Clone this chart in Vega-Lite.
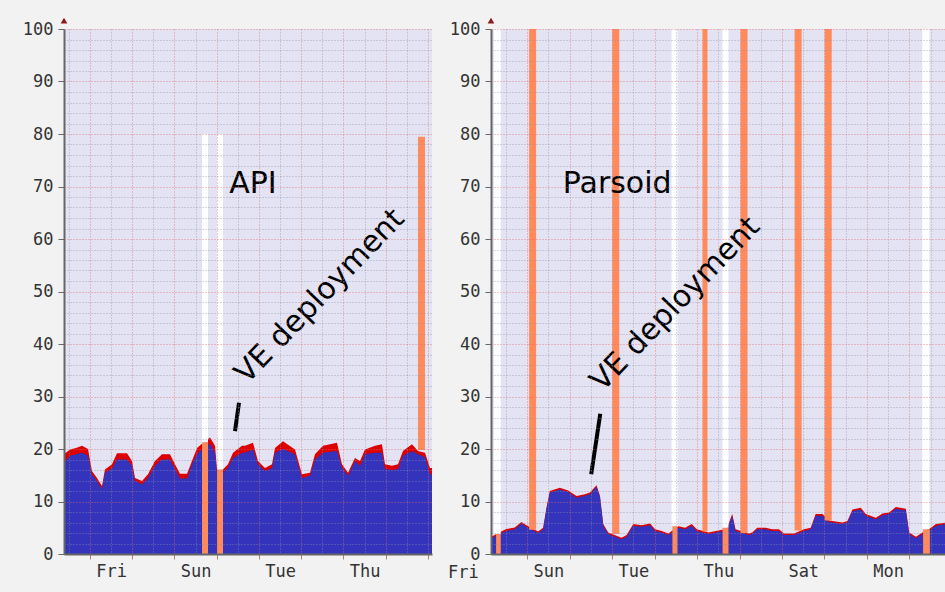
{
  "$schema": "https://vega.github.io/schema/vega-lite/v6.json",
  "background": "#f2f2f2",
  "padding": {"left": 22, "top": 17, "right": 0, "bottom": 14},
  "spacing": 16,
  "config": {
    "view": {"stroke": null, "fill": "#e3e3f3"},
    "axis": {"labelFont": "DejaVu Sans Mono", "labelFontSize": 17, "labelColor": "#333333", "title": null}
  },
  "datasets": {
    "api": [
      {"d": -0.615, "user": 17.4, "total": 19.0}, {"d": -0.473, "user": 18.7, "total": 19.9}, {"d": -0.331, "user": 19.0, "total": 20.2},
      {"d": -0.189, "user": 19.3, "total": 20.6}, {"d": -0.047, "user": 18.7, "total": 20.0}, {"d": 0.047, "user": 15.2, "total": 15.8},
      {"d": 0.166, "user": 13.9, "total": 14.5}, {"d": 0.284, "user": 12.4, "total": 12.95}, {"d": 0.355, "user": 15.5, "total": 16.1},
      {"d": 0.521, "user": 16.3, "total": 17.1}, {"d": 0.639, "user": 18.0, "total": 19.2}, {"d": 0.876, "user": 18.0, "total": 19.2},
      {"d": 0.994, "user": 16.8, "total": 17.7}, {"d": 1.065, "user": 13.9, "total": 14.5}, {"d": 1.231, "user": 13.3, "total": 13.9},
      {"d": 1.373, "user": 14.5, "total": 15.2}, {"d": 1.538, "user": 16.8, "total": 17.7}, {"d": 1.704, "user": 18.0, "total": 19.0},
      {"d": 1.893, "user": 18.0, "total": 19.0}, {"d": 2.012, "user": 16.2, "total": 17.1}, {"d": 2.130, "user": 14.4, "total": 15.3},
      {"d": 2.296, "user": 14.4, "total": 15.3}, {"d": 2.414, "user": 17.1, "total": 17.7}, {"d": 2.533, "user": 19.0, "total": 20.2},
      {"d": 2.651, "user": 20.0, "total": 21.0}, {"d": 2.840, "user": 21.0, "total": 22.2}, {"d": 2.959, "user": 19.3, "total": 20.6},
      {"d": 3.006, "user": 15.5, "total": 16.1}, {"d": 3.148, "user": 15.5, "total": 16.1}, {"d": 3.266, "user": 16.5, "total": 17.1},
      {"d": 3.385, "user": 18.3, "total": 19.3}, {"d": 3.598, "user": 19.3, "total": 20.6}, {"d": 3.669, "user": 19.3, "total": 20.6},
      {"d": 3.858, "user": 19.9, "total": 21.2}, {"d": 3.976, "user": 17.1, "total": 17.7}, {"d": 4.142, "user": 15.8, "total": 16.4},
      {"d": 4.308, "user": 16.4, "total": 17.1}, {"d": 4.379, "user": 19.3, "total": 20.2}, {"d": 4.568, "user": 20.0, "total": 21.5},
      {"d": 4.852, "user": 19.0, "total": 19.9}, {"d": 5.018, "user": 14.5, "total": 15.2}, {"d": 5.207, "user": 14.9, "total": 15.5},
      {"d": 5.325, "user": 18.0, "total": 19.0}, {"d": 5.515, "user": 19.3, "total": 20.6}, {"d": 5.846, "user": 19.6, "total": 21.2},
      {"d": 5.964, "user": 16.5, "total": 17.1}, {"d": 6.107, "user": 14.9, "total": 15.5}, {"d": 6.272, "user": 17.7, "total": 18.3},
      {"d": 6.391, "user": 16.8, "total": 17.7}, {"d": 6.509, "user": 19.0, "total": 19.9}, {"d": 6.746, "user": 19.3, "total": 20.6},
      {"d": 6.911, "user": 19.3, "total": 20.9}, {"d": 6.982, "user": 16.2, "total": 17.1}, {"d": 7.148, "user": 16.0, "total": 16.8},
      {"d": 7.290, "user": 16.2, "total": 17.1}, {"d": 7.408, "user": 18.7, "total": 19.6}, {"d": 7.621, "user": 19.6, "total": 20.9},
      {"d": 7.763, "user": 19.0, "total": 19.6}, {"d": 7.929, "user": 18.5, "total": 19.3}, {"d": 8.047, "user": 15.2, "total": 16.4},
      {"d": 8.095, "user": 15.2, "total": 16.4}
    ],
    "parsoid": [
      {"d": -0.842, "user": 3.0, "total": 3.3}, {"d": -0.606, "user": 4.0, "total": 4.3}, {"d": -0.488, "user": 4.4, "total": 4.75},
      {"d": -0.290, "user": 4.7, "total": 5.05}, {"d": -0.134, "user": 5.8, "total": 6.1}, {"d": -0.017, "user": 5.2, "total": 5.5},
      {"d": 0.259, "user": 4.0, "total": 4.3}, {"d": 0.377, "user": 4.7, "total": 5.0}, {"d": 0.455, "user": 8.5, "total": 8.8},
      {"d": 0.535, "user": 11.7, "total": 12.0}, {"d": 0.771, "user": 12.3, "total": 12.6}, {"d": 0.967, "user": 11.8, "total": 12.1},
      {"d": 1.163, "user": 10.7, "total": 11.05}, {"d": 1.361, "user": 11.1, "total": 11.4}, {"d": 1.479, "user": 11.4, "total": 11.7},
      {"d": 1.634, "user": 12.8, "total": 13.1}, {"d": 1.715, "user": 10.8, "total": 11.1}, {"d": 1.792, "user": 5.4, "total": 5.7},
      {"d": 1.910, "user": 3.8, "total": 4.1}, {"d": 2.224, "user": 2.8, "total": 3.1}, {"d": 2.342, "user": 3.3, "total": 3.6},
      {"d": 2.500, "user": 5.4, "total": 5.7}, {"d": 2.696, "user": 5.2, "total": 5.5}, {"d": 2.894, "user": 5.5, "total": 5.8},
      {"d": 3.012, "user": 4.4, "total": 4.7}, {"d": 3.167, "user": 4.1, "total": 4.4}, {"d": 3.325, "user": 3.6, "total": 3.9},
      {"d": 3.561, "user": 5.0, "total": 5.3}, {"d": 3.719, "user": 4.7, "total": 5.0}, {"d": 3.875, "user": 5.4, "total": 5.7},
      {"d": 3.993, "user": 4.4, "total": 4.7}, {"d": 4.269, "user": 3.8, "total": 4.1}, {"d": 4.505, "user": 4.2, "total": 4.5},
      {"d": 4.700, "user": 4.5, "total": 4.8}, {"d": 4.828, "user": 7.3, "total": 7.6}, {"d": 4.906, "user": 4.4, "total": 4.7},
      {"d": 5.219, "user": 3.6, "total": 3.9}, {"d": 5.300, "user": 3.8, "total": 4.1}, {"d": 5.417, "user": 4.7, "total": 5.0},
      {"d": 5.613, "user": 4.7, "total": 5.0}, {"d": 5.771, "user": 4.4, "total": 4.7}, {"d": 5.927, "user": 4.4, "total": 4.7},
      {"d": 6.045, "user": 3.6, "total": 3.9}, {"d": 6.281, "user": 3.6, "total": 3.9}, {"d": 6.517, "user": 4.4, "total": 4.7},
      {"d": 6.675, "user": 4.7, "total": 5.0}, {"d": 6.792, "user": 7.3, "total": 7.6}, {"d": 6.950, "user": 7.3, "total": 7.6},
      {"d": 7.106, "user": 6.1, "total": 6.4}, {"d": 7.264, "user": 5.9, "total": 6.2}, {"d": 7.422, "user": 5.7, "total": 6.0},
      {"d": 7.540, "user": 6.0, "total": 6.3}, {"d": 7.658, "user": 8.2, "total": 8.5}, {"d": 7.854, "user": 8.5, "total": 8.8},
      {"d": 7.972, "user": 7.3, "total": 7.6}, {"d": 8.208, "user": 6.6, "total": 6.9}, {"d": 8.366, "user": 7.4, "total": 7.7},
      {"d": 8.521, "user": 7.6, "total": 7.9}, {"d": 8.679, "user": 8.6, "total": 8.95}, {"d": 8.915, "user": 8.3, "total": 8.6},
      {"d": 8.993, "user": 3.8, "total": 4.1}, {"d": 9.151, "user": 3.0, "total": 3.3}, {"d": 9.269, "user": 3.6, "total": 3.9},
      {"d": 9.505, "user": 4.7, "total": 5.0}, {"d": 9.623, "user": 5.4, "total": 5.7}, {"d": 9.858, "user": 5.7, "total": 6.0}
    ],
    "api_spikes": [
      {"x0": 2.651, "x1": 2.793, "y0": 0, "y1": 21.3, "kind": "wait"},
      {"x0": 2.651, "x1": 2.793, "y0": 21.3, "y1": 80, "kind": "nodata"},
      {"x0": 3.006, "x1": 3.148, "y0": 0, "y1": 16.1, "kind": "wait"},
      {"x0": 3.006, "x1": 3.148, "y0": 16.1, "y1": 80, "kind": "nodata"},
      {"x0": 7.763, "x1": 7.929, "y0": 19.8, "y1": 79.5, "kind": "wait"}
    ],
    "parsoid_spikes": [
      {"x0": -0.78, "x1": -0.62, "y0": 3.8, "y1": 100, "kind": "nodata"},
      {"x0": -0.73, "x1": -0.62, "y0": 0, "y1": 3.8, "kind": "wait"},
      {"x0": 0.047, "x1": 0.212, "y0": 4.6, "y1": 100, "kind": "wait"},
      {"x0": 2.005, "x1": 2.170, "y0": 3.8, "y1": 100, "kind": "wait"},
      {"x0": 3.40, "x1": 3.54, "y0": 5.3, "y1": 100, "kind": "nodata"},
      {"x0": 3.42, "x1": 3.54, "y0": 0, "y1": 5.3, "kind": "wait"},
      {"x0": 4.127, "x1": 4.245, "y0": 4.3, "y1": 100, "kind": "wait"},
      {"x0": 4.60, "x1": 4.74, "y0": 5.0, "y1": 100, "kind": "nodata"},
      {"x0": 4.60, "x1": 4.74, "y0": 0, "y1": 5.0, "kind": "wait"},
      {"x0": 5.024, "x1": 5.189, "y0": 4.0, "y1": 100, "kind": "wait"},
      {"x0": 6.297, "x1": 6.462, "y0": 4.5, "y1": 100, "kind": "wait"},
      {"x0": 7.005, "x1": 7.170, "y0": 6.4, "y1": 100, "kind": "wait"},
      {"x0": 9.30, "x1": 9.47, "y0": 4.7, "y1": 100, "kind": "nodata"},
      {"x0": 9.32, "x1": 9.48, "y0": 0, "y1": 4.7, "kind": "wait"}
    ]
  },
  "hconcat": [
    {
      "width": 368,
      "height": 525,
      "resolve": {"axis": {"x": "independent", "y": "independent"}},
      "layer": [
        {
          "data": {"name": "api"},
          "mark": {"type": "area", "color": "#dd0000"},
          "encoding": {
            "x": {"field": "d", "type": "quantitative", "scale": {"domain": [-0.615, 8.095], "nice": false, "zero": false},
              "axis": {"orient": "bottom", "values": [0, 1, 2, 3, 4, 5, 6, 7, 8], "labels": false, "grid": true, "gridColor": "#e06a6a", "gridDash": [1, 2], "gridOpacity": 0.75, "ticks": true, "tickSize": 5, "tickColor": "#b08080", "domain": true, "domainColor": "#666666", "domainWidth": 2, "zindex": 1}},
            "y": {"field": "total", "type": "quantitative", "scale": {"domain": [0, 100], "nice": false},
              "axis": {"orient": "left", "values": [0, 10, 20, 30, 40, 50, 60, 70, 80, 90, 100], "grid": true, "gridColor": "#e06a6a", "gridDash": [1, 2], "gridOpacity": 0.75, "ticks": true, "tickSize": 6, "tickColor": "#666666", "labelPadding": 5, "domain": true, "domainColor": "#666666", "domainWidth": 2, "zindex": 1}}
          }
        },
        {
          "data": {"name": "api"},
          "mark": {"type": "area", "color": "#3333bb"},
          "encoding": {
            "x": {"field": "d", "type": "quantitative", "scale": {"domain": [-0.615, 8.095], "nice": false, "zero": false},
              "axis": {"orient": "bottom", "values": [-0.5, 0.5, 1.5, 2.5, 3.5, 4.5, 5.5, 6.5, 7.5], "labels": false, "ticks": false, "domain": false, "grid": true, "gridColor": "#9090a8", "gridDash": [1, 2], "gridOpacity": 0.7, "zindex": 1}},
            "y": {"field": "user", "type": "quantitative", "scale": {"domain": [0, 100], "nice": false},
              "axis": {"orient": "left", "values": [2, 4, 6, 8, 12, 14, 16, 18, 22, 24, 26, 28, 32, 34, 36, 38, 42, 44, 46, 48, 52, 54, 56, 58, 62, 64, 66, 68, 72, 74, 76, 78, 82, 84, 86, 88, 92, 94, 96, 98], "labels": false, "ticks": false, "domain": false, "grid": true, "gridColor": "#9090a8", "gridDash": [1, 2], "gridOpacity": 0.7, "zindex": 1}}
          }
        },
        {
          "data": {"name": "api_spikes"},
          "mark": {"type": "rect"},
          "encoding": {
            "x": {"field": "x0", "type": "quantitative", "scale": {"domain": [-0.615, 8.095], "nice": false, "zero": false},
              "axis": {"orient": "bottom", "values": [0.5, 2.5, 4.5, 6.5], "labelExpr": "['Fri','Sat','Sun','Mon','Tue','Wed','Thu','Fri','Sat'][floor(datum.value)]", "ticks": false, "domain": false, "grid": false, "labelPadding": 9}},
            "x2": {"field": "x1"},
            "y": {"field": "y0", "type": "quantitative", "scale": {"domain": [0, 100], "nice": false}, "axis": null},
            "y2": {"field": "y1"},
            "color": {"field": "kind", "type": "nominal", "scale": {"domain": ["wait", "nodata"], "range": ["#ff8a5c", "#ffffff"]}, "legend": null}
          }
        },
        {
          "data": {"values": [{"d": 3.527, "v": 28.8, "d2": 3.432, "v2": 23.4}]},
          "mark": {"type": "rule", "color": "#000000", "strokeWidth": 4},
          "encoding": {
            "x": {"field": "d", "type": "quantitative", "scale": {"domain": [-0.615, 8.095], "nice": false, "zero": false}, "axis": null},
            "x2": {"field": "d2"},
            "y": {"field": "v", "type": "quantitative", "scale": {"domain": [0, 100], "nice": false}, "axis": null},
            "y2": {"field": "v2"}
          }
        },
        {
          "data": {"values": [{"d": 3.858, "v": 70.5, "label": "API"}]},
          "mark": {"type": "text", "font": "DejaVu Sans", "fontSize": 30, "color": "#000000", "align": "center", "baseline": "middle"},
          "encoding": {
            "x": {"field": "d", "type": "quantitative", "scale": {"domain": [-0.615, 8.095], "nice": false, "zero": false}, "axis": null},
            "y": {"field": "v", "type": "quantitative", "scale": {"domain": [0, 100], "nice": false}, "axis": null},
            "text": {"field": "label"}
          }
        },
        {
          "data": {"values": [{"d": 5.44, "v": 49.1, "label": "VE deployment"}]},
          "mark": {"type": "text", "font": "DejaVu Sans", "fontSize": 30, "color": "#000000", "align": "center", "baseline": "middle", "angle": 314},
          "encoding": {
            "x": {"field": "d", "type": "quantitative", "scale": {"domain": [-0.615, 8.095], "nice": false, "zero": false}, "axis": null},
            "y": {"field": "v", "type": "quantitative", "scale": {"domain": [0, 100], "nice": false}, "axis": null},
            "text": {"field": "label"}
          }
        },
        {
          "data": {"values": [{"d": -0.615, "v": 101.6}]},
          "mark": {"type": "point", "shape": "triangle-up", "filled": true, "color": "#8b1a1a", "size": 45, "opacity": 1},
          "encoding": {
            "x": {"field": "d", "type": "quantitative", "scale": {"domain": [-0.615, 8.095], "nice": false, "zero": false}, "axis": null},
            "y": {"field": "v", "type": "quantitative", "scale": {"domain": [0, 100], "nice": false}, "axis": null}
          }
        }
      ]
    },
    {
      "width": 455,
      "height": 525,
      "resolve": {"axis": {"x": "independent", "y": "independent"}},
      "layer": [
        {
          "data": {"name": "parsoid"},
          "mark": {"type": "area", "color": "#dd0000"},
          "encoding": {
            "x": {"field": "d", "type": "quantitative", "scale": {"domain": [-0.85, 9.86], "nice": false, "zero": false},
              "axis": {"orient": "bottom", "values": [0, 1, 2, 3, 4, 5, 6, 7, 8, 9], "labels": false, "grid": true, "gridColor": "#e06a6a", "gridDash": [1, 2], "gridOpacity": 0.75, "ticks": true, "tickSize": 5, "tickColor": "#b08080", "domain": true, "domainColor": "#666666", "domainWidth": 2, "zindex": 1}},
            "y": {"field": "total", "type": "quantitative", "scale": {"domain": [0, 100], "nice": false},
              "axis": {"orient": "left", "values": [0, 10, 20, 30, 40, 50, 60, 70, 80, 90, 100], "grid": true, "gridColor": "#e06a6a", "gridDash": [1, 2], "gridOpacity": 0.75, "ticks": true, "tickSize": 6, "tickColor": "#666666", "labelPadding": 5, "domain": true, "domainColor": "#666666", "domainWidth": 2, "zindex": 1}}
          }
        },
        {
          "data": {"name": "parsoid"},
          "mark": {"type": "area", "color": "#3333bb"},
          "encoding": {
            "x": {"field": "d", "type": "quantitative", "scale": {"domain": [-0.85, 9.86], "nice": false, "zero": false},
              "axis": {"orient": "bottom", "values": [-0.5, 0.5, 1.5, 2.5, 3.5, 4.5, 5.5, 6.5, 7.5, 8.5, 9.5], "labels": false, "ticks": false, "domain": false, "grid": true, "gridColor": "#9090a8", "gridDash": [1, 2], "gridOpacity": 0.7, "zindex": 1}},
            "y": {"field": "user", "type": "quantitative", "scale": {"domain": [0, 100], "nice": false},
              "axis": {"orient": "left", "values": [2, 4, 6, 8, 12, 14, 16, 18, 22, 24, 26, 28, 32, 34, 36, 38, 42, 44, 46, 48, 52, 54, 56, 58, 62, 64, 66, 68, 72, 74, 76, 78, 82, 84, 86, 88, 92, 94, 96, 98], "labels": false, "ticks": false, "domain": false, "grid": true, "gridColor": "#9090a8", "gridDash": [1, 2], "gridOpacity": 0.7, "zindex": 1}}
          }
        },
        {
          "data": {"name": "parsoid_spikes"},
          "mark": {"type": "rect"},
          "encoding": {
            "x": {"field": "x0", "type": "quantitative", "scale": {"domain": [-0.85, 9.86], "nice": false, "zero": false},
              "axis": {"orient": "bottom", "values": [0.5, 2.5, 4.5, 6.5, 8.5], "labelExpr": "['Sun','Mon','Tue','Wed','Thu','Fri','Sat','Sun','Mon','Tue'][floor(datum.value)]", "ticks": false, "domain": false, "grid": false, "labelPadding": 9}},
            "x2": {"field": "x1"},
            "y": {"field": "y0", "type": "quantitative", "scale": {"domain": [0, 100], "nice": false}, "axis": null},
            "y2": {"field": "y1"},
            "color": {"field": "kind", "type": "nominal", "scale": {"domain": ["wait", "nodata"], "range": ["#ff8a5c", "#ffffff"]}, "legend": null}
          }
        },
        {
          "data": {"values": [{"d": 1.722, "v": 26.7, "d2": 1.509, "v2": 15.2}]},
          "mark": {"type": "rule", "color": "#000000", "strokeWidth": 4},
          "encoding": {
            "x": {"field": "d", "type": "quantitative", "scale": {"domain": [-0.85, 9.86], "nice": false, "zero": false}, "axis": null},
            "x2": {"field": "d2"},
            "y": {"field": "v", "type": "quantitative", "scale": {"domain": [0, 100], "nice": false}, "axis": null},
            "y2": {"field": "v2"}
          }
        },
        {
          "data": {"values": [{"d": 2.12, "v": 70.5, "label": "Parsoid"}]},
          "mark": {"type": "text", "font": "DejaVu Sans", "fontSize": 30, "color": "#000000", "align": "center", "baseline": "middle"},
          "encoding": {
            "x": {"field": "d", "type": "quantitative", "scale": {"domain": [-0.85, 9.86], "nice": false, "zero": false}, "axis": null},
            "y": {"field": "v", "type": "quantitative", "scale": {"domain": [0, 100], "nice": false}, "axis": null},
            "text": {"field": "label"}
          }
        },
        {
          "data": {"values": [{"d": 3.49, "v": 47.6, "label": "VE deployment"}]},
          "mark": {"type": "text", "font": "DejaVu Sans", "fontSize": 30, "color": "#000000", "align": "center", "baseline": "middle", "angle": 314},
          "encoding": {
            "x": {"field": "d", "type": "quantitative", "scale": {"domain": [-0.85, 9.86], "nice": false, "zero": false}, "axis": null},
            "y": {"field": "v", "type": "quantitative", "scale": {"domain": [0, 100], "nice": false}, "axis": null},
            "text": {"field": "label"}
          }
        },
        {
          "data": {"values": [{"d": -1.5, "v": -3.6, "label": "Fri"}]},
          "mark": {"type": "text", "font": "DejaVu Sans Mono", "fontSize": 17, "color": "#333333", "align": "center", "baseline": "middle"},
          "encoding": {
            "x": {"field": "d", "type": "quantitative", "scale": {"domain": [-0.85, 9.86], "nice": false, "zero": false}, "axis": null},
            "y": {"field": "v", "type": "quantitative", "scale": {"domain": [0, 100], "nice": false}, "axis": null},
            "text": {"field": "label"}
          }
        },
        {
          "data": {"values": [{"d": -0.85, "v": 101.6}]},
          "mark": {"type": "point", "shape": "triangle-up", "filled": true, "color": "#8b1a1a", "size": 45, "opacity": 1},
          "encoding": {
            "x": {"field": "d", "type": "quantitative", "scale": {"domain": [-0.85, 9.86], "nice": false, "zero": false}, "axis": null},
            "y": {"field": "v", "type": "quantitative", "scale": {"domain": [0, 100], "nice": false}, "axis": null}
          }
        }
      ]
    }
  ]
}
